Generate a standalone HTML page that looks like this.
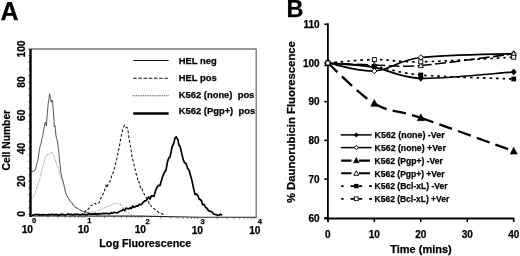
<!DOCTYPE html>
<html><head><meta charset="utf-8"><title>Figure</title>
<style>html,body{margin:0;padding:0;background:#fff}body{width:520px;height:256px;overflow:hidden}svg text{stroke:#000;stroke-width:.25px;stroke-linejoin:round}</style>
</head><body>
<svg width="520" height="256" viewBox="0 0 520 256" style="display:block;filter:blur(0.4px)">
<rect width="520" height="256" fill="#fff"/>
<g font-family="'Liberation Sans', sans-serif" fill="#000">
<text x="0.4" y="19.5" font-size="25" font-weight="700">A</text>
<path d="M31,49 H256.2 M256.2,48.5 V217.5" stroke="#777" stroke-width="1.3" fill="none"/>
<path d="M30,216 L140,216.1 L200,217.2 L256.8,217.3" stroke="#222" stroke-width="1.1" fill="none"/>
<path d="M30.5,48.8 V217" stroke="#000" stroke-width="2.4" fill="none"/>
<path d="M28.4,214.5 H30" stroke="#222" stroke-width="0.7"/>
<path d="M28.4,207.9 H30" stroke="#222" stroke-width="0.7"/>
<path d="M28.4,201.3 H30" stroke="#222" stroke-width="0.7"/>
<path d="M28.4,194.6 H30" stroke="#222" stroke-width="0.7"/>
<path d="M28.4,188.0 H30" stroke="#222" stroke-width="0.7"/>
<path d="M28.4,181.4 H30" stroke="#222" stroke-width="0.7"/>
<path d="M28.4,174.8 H30" stroke="#222" stroke-width="0.7"/>
<path d="M28.4,168.2 H30" stroke="#222" stroke-width="0.7"/>
<path d="M28.4,161.5 H30" stroke="#222" stroke-width="0.7"/>
<path d="M28.4,154.9 H30" stroke="#222" stroke-width="0.7"/>
<path d="M28.4,148.3 H30" stroke="#222" stroke-width="0.7"/>
<path d="M28.4,141.7 H30" stroke="#222" stroke-width="0.7"/>
<path d="M28.4,135.1 H30" stroke="#222" stroke-width="0.7"/>
<path d="M28.4,128.4 H30" stroke="#222" stroke-width="0.7"/>
<path d="M28.4,121.8 H30" stroke="#222" stroke-width="0.7"/>
<path d="M28.4,115.2 H30" stroke="#222" stroke-width="0.7"/>
<path d="M28.4,108.6 H30" stroke="#222" stroke-width="0.7"/>
<path d="M28.4,102.0 H30" stroke="#222" stroke-width="0.7"/>
<path d="M28.4,95.3 H30" stroke="#222" stroke-width="0.7"/>
<path d="M28.4,88.7 H30" stroke="#222" stroke-width="0.7"/>
<path d="M28.4,82.1 H30" stroke="#222" stroke-width="0.7"/>
<path d="M28.4,75.5 H30" stroke="#222" stroke-width="0.7"/>
<path d="M28.4,68.9 H30" stroke="#222" stroke-width="0.7"/>
<path d="M28.4,62.2 H30" stroke="#222" stroke-width="0.7"/>
<path d="M28.4,55.6 H30" stroke="#222" stroke-width="0.7"/>
<path d="M28.4,49.0 H30" stroke="#222" stroke-width="0.7"/>
<path d="M48.0,216.0 v2" stroke="#333" stroke-width="0.6"/>
<path d="M57.9,216.0 v2" stroke="#333" stroke-width="0.6"/>
<path d="M65.0,216.0 v2" stroke="#333" stroke-width="0.6"/>
<path d="M70.4,216.0 v2" stroke="#333" stroke-width="0.6"/>
<path d="M74.9,216.0 v2" stroke="#333" stroke-width="0.6"/>
<path d="M78.7,216.0 v2" stroke="#333" stroke-width="0.6"/>
<path d="M81.9,216.0 v2" stroke="#333" stroke-width="0.6"/>
<path d="M84.8,216.0 v2" stroke="#333" stroke-width="0.6"/>
<path d="M104.4,216.0 v2" stroke="#333" stroke-width="0.6"/>
<path d="M114.3,216.0 v2" stroke="#333" stroke-width="0.6"/>
<path d="M121.4,216.0 v2" stroke="#333" stroke-width="0.6"/>
<path d="M126.8,216.0 v2" stroke="#333" stroke-width="0.6"/>
<path d="M131.3,216.0 v2" stroke="#333" stroke-width="0.6"/>
<path d="M135.1,216.0 v2" stroke="#333" stroke-width="0.6"/>
<path d="M138.3,216.0 v2" stroke="#333" stroke-width="0.6"/>
<path d="M141.2,216.1 v2" stroke="#333" stroke-width="0.6"/>
<path d="M160.8,216.5 v2" stroke="#333" stroke-width="0.6"/>
<path d="M170.7,216.7 v2" stroke="#333" stroke-width="0.6"/>
<path d="M177.8,216.8 v2" stroke="#333" stroke-width="0.6"/>
<path d="M183.2,216.9 v2" stroke="#333" stroke-width="0.6"/>
<path d="M187.7,217.0 v2" stroke="#333" stroke-width="0.6"/>
<path d="M191.5,217.0 v2" stroke="#333" stroke-width="0.6"/>
<path d="M194.7,217.1 v2" stroke="#333" stroke-width="0.6"/>
<path d="M197.6,217.2 v2" stroke="#333" stroke-width="0.6"/>
<path d="M217.2,217.2 v2" stroke="#333" stroke-width="0.6"/>
<path d="M227.1,217.2 v2" stroke="#333" stroke-width="0.6"/>
<path d="M234.2,217.2 v2" stroke="#333" stroke-width="0.6"/>
<path d="M239.6,217.2 v2" stroke="#333" stroke-width="0.6"/>
<path d="M244.1,217.2 v2" stroke="#333" stroke-width="0.6"/>
<path d="M247.9,217.2 v2" stroke="#333" stroke-width="0.6"/>
<path d="M251.1,217.2 v2" stroke="#333" stroke-width="0.6"/>
<path d="M254.0,217.2 v2" stroke="#333" stroke-width="0.6"/>
<text transform="translate(24.5,49.0) rotate(-90)" text-anchor="middle" font-size="10.3" font-weight="700">100</text>
<text transform="translate(24.5,82.0) rotate(-90)" text-anchor="middle" font-size="10.3" font-weight="700">80</text>
<text transform="translate(24.5,115.3) rotate(-90)" text-anchor="middle" font-size="10.3" font-weight="700">60</text>
<text transform="translate(24.5,148.4) rotate(-90)" text-anchor="middle" font-size="10.3" font-weight="700">40</text>
<text transform="translate(24.5,181.3) rotate(-90)" text-anchor="middle" font-size="10.3" font-weight="700">20</text>
<text transform="translate(24.5,213.9) rotate(-90)" text-anchor="middle" font-size="10.3" font-weight="700">0</text>
<text transform="translate(9.5,140.2) rotate(-90)" text-anchor="middle" font-size="10.3" font-weight="700">Cell Number</text>
<text x="21.7" y="233.0" font-size="10.2" font-weight="700">10</text>
<text x="32.0" y="223.1" font-size="7.6" font-weight="700">0</text>
<text x="77.9" y="233.0" font-size="10.2" font-weight="700">10</text>
<text x="87.2" y="223.2" font-size="7.6" font-weight="700">1</text>
<text x="134.7" y="233.4" font-size="10.2" font-weight="700">10</text>
<text x="145.6" y="223.7" font-size="7.6" font-weight="700">2</text>
<text x="191.7" y="233.9" font-size="10.2" font-weight="700">10</text>
<text x="200.6" y="224.4" font-size="7.6" font-weight="700">3</text>
<text x="249.2" y="233.9" font-size="10.2" font-weight="700">10</text>
<text x="257.8" y="224.4" font-size="7.6" font-weight="700">4</text>
<text x="99.3" y="246.6" font-size="11" font-weight="700" textLength="92" lengthAdjust="spacingAndGlyphs">Log Fluorescence</text>
<path d="M31.0,170.3 L32.0,171.4 L33.0,171.2 L34.0,171.0 L35.0,170.3 L36.0,167.9 L37.0,163.2 L38.0,159.9 L39.2,150.9 L40.5,144.3 L41.2,143.0 L42.0,138.4 L42.8,135.6 L43.5,130.9 L44.2,127.6 L45.0,122.6 L45.7,122.4 L46.4,126.0 L47.2,115.1 L48.2,103.6 L48.9,99.4 L49.6,93.9 L50.5,98.7 L51.3,102.2 L52.0,100.0 L52.6,101.8 L53.5,113.0 L54.4,126.9 L55.0,125.6 L56.0,136.0 L56.9,139.1 L57.7,143.1 L58.5,149.7 L59.3,157.8 L60.0,163.9 L60.8,172.1 L61.9,177.5 L63.0,181.0 L64.0,185.1 L65.0,189.3 L66.0,194.2 L67.0,195.9 L68.0,197.9 L69.0,199.0 L70.0,201.0 L71.0,201.8 L72.0,202.8 L73.0,204.5 L74.0,205.8 L75.0,207.5 L76.0,207.5 L77.0,208.1 L78.0,208.4 L79.0,209.5 L80.0,210.1 L80.9,210.1 L81.8,210.9 L82.7,211.3 L83.5,211.5 L84.3,211.5 L85.2,211.9 L86.0,211.8 L87.0,212.6 L88.0,212.8 L89.0,213.1 L90.0,213.4 L90.8,213.9 L91.7,214.2 L92.5,213.9 L93.3,214.4 L94.2,214.4 L95.0,214.4 L95.8,214.6 L96.7,214.9 L97.5,215.0 L98.3,214.7 L99.2,215.0 L100.0,214.8" fill="none" stroke="#222" stroke-width="0.75" stroke-linejoin="round"/>
<path d="M33.0,197.5 L34.0,195.2 L35.0,193.8 L36.0,190.2 L37.0,187.0 L38.0,184.3 L39.0,182.0 L40.0,177.7 L41.0,173.6 L42.0,168.8 L43.0,166.1 L44.0,162.5 L45.0,159.2 L46.0,156.6 L47.0,154.3 L48.0,155.0 L49.0,153.8 L50.0,153.2 L51.0,153.5 L52.0,152.3 L53.0,154.0 L54.0,156.3 L55.0,159.1 L56.0,161.9 L57.0,165.4 L58.0,167.0 L59.0,171.3 L60.0,174.9 L61.0,178.0 L62.0,180.2 L63.0,183.9 L64.0,186.0 L65.0,191.0 L66.0,193.8 L66.9,195.1 L67.7,196.6 L68.6,199.7 L69.7,200.8 L70.9,202.9 L72.0,204.5 L73.0,205.0 L74.0,205.9 L75.0,207.1 L76.0,207.9 L77.0,208.2 L78.0,208.8 L79.0,209.8 L80.0,209.6 L81.0,210.1 L82.0,210.9 L83.0,211.1 L84.0,211.6 L85.0,212.0 L86.0,212.0 L87.0,212.5 L88.0,212.1 L89.0,212.4 L90.0,212.3 L91.0,212.5 L92.0,212.2 L93.0,212.1 L94.0,212.2 L95.0,211.9 L96.0,211.6 L97.0,211.5 L98.0,210.5 L99.0,210.1 L100.0,209.8 L101.0,209.8 L102.0,209.3 L103.0,208.6 L104.0,208.2 L105.0,207.7 L106.0,207.4 L107.0,206.3 L108.0,206.4 L109.0,206.1 L110.0,205.6 L111.0,205.0 L112.0,205.0 L113.0,203.5 L114.0,203.5 L115.0,204.1 L116.0,203.7 L117.0,203.0 L118.0,203.6 L119.0,203.8 L120.0,204.7 L121.0,204.7 L122.0,206.0 L123.0,207.6 L124.0,208.7 L125.0,209.9 L126.0,211.3 L127.0,211.9 L128.0,212.7 L129.0,213.3 L130.0,213.9 L131.0,214.6 L132.0,214.9" fill="none" stroke="#777" stroke-width="0.9" stroke-dasharray="0.9 1.0"/>
<path d="M80.0,215.1 L81.0,214.5 L82.0,213.9 L83.0,213.4 L84.0,212.7 L85.0,212.0 L86.0,210.3 L87.0,209.8 L88.0,209.5 L89.0,208.2 L90.0,207.5 L91.0,205.4 L91.9,205.3 L92.7,204.3 L93.6,204.1 L95.0,203.1 L96.0,204.3 L97.0,204.0 L98.0,203.6 L99.0,202.8 L100.0,200.6 L101.0,197.6 L102.0,197.4 L103.0,194.0 L104.0,192.7 L105.0,188.5 L106.0,185.5 L106.8,188.0 L107.5,185.8 L108.8,182.5 L110.0,181.4 L111.0,178.5 L112.0,174.0 L113.0,173.4 L113.9,169.5 L114.8,167.2 L115.7,163.1 L116.8,159.3 L118.0,152.6 L119.0,148.4 L120.0,143.2 L121.0,136.9 L122.0,132.6 L122.8,129.5 L123.5,126.9 L124.8,125.2 L126.0,127.4 L127.0,127.3 L128.0,130.5 L129.0,138.5 L130.0,143.5 L131.0,149.4 L132.0,157.0 L133.0,160.4 L134.0,164.4 L135.0,168.9 L136.0,173.6 L137.0,175.5 L138.0,182.0 L139.0,181.6 L140.0,186.3 L141.0,189.0 L142.0,188.6 L143.0,192.9 L144.0,193.6 L145.2,196.7 L146.5,197.9 L147.4,199.3 L148.2,200.9 L149.1,203.6 L150.0,203.5 L151.0,205.7 L152.0,207.2 L153.0,208.5 L153.9,208.6 L154.8,209.4 L155.8,210.3 L156.7,211.2 L157.8,211.4 L158.9,212.5 L160.0,213.2 L161.0,213.6 L162.0,213.5 L163.0,214.4 L164.0,214.4 L165.0,214.9" fill="none" stroke="#111" stroke-width="1.05" stroke-dasharray="2.8 2.0"/>
<path d="M32.0,215.1 L33.3,215.1 L34.5,214.8 L35.8,214.5 L37.1,214.3 L38.4,214.9 L39.6,214.7 L40.9,215.0 L42.2,214.6 L43.5,215.0 L44.7,214.5 L46.0,215.0 L47.3,214.9 L48.5,214.6 L49.8,214.7 L51.1,214.8 L52.4,214.3 L53.6,214.7 L54.9,214.9 L56.2,214.4 L57.5,214.9 L58.7,214.8 L60.0,214.9 L61.3,214.4 L62.6,214.2 L63.9,214.9 L65.2,214.8 L66.5,214.5 L67.8,214.1 L69.1,214.2 L70.4,214.6 L71.7,214.2 L73.0,214.9 L74.3,214.5 L75.7,214.1 L77.0,214.5 L78.3,214.2 L79.6,214.8 L80.9,214.7 L82.2,214.3 L83.5,214.4 L84.8,214.5 L86.1,214.6 L87.4,214.7 L88.7,213.7 L90.0,214.1 L91.3,214.3 L92.7,213.9 L94.0,214.1 L95.3,213.6 L96.7,214.3 L98.0,213.9 L99.3,213.5 L100.7,214.0 L102.0,213.6 L103.3,213.4 L104.7,213.7 L106.0,213.3 L107.3,213.3 L108.7,213.9 L110.0,213.7 L111.3,212.7 L112.7,213.4 L114.0,212.3 L115.3,212.5 L116.7,213.0 L118.0,212.5 L119.3,211.5 L120.7,211.0 L122.0,210.5 L123.3,209.4 L124.7,210.5 L126.0,208.1 L127.3,208.5 L128.7,208.9 L130.0,207.8 L131.3,208.5 L132.7,206.0 L134.0,207.3 L135.3,206.7 L136.7,205.8 L138.0,206.1 L139.3,204.2 L140.7,204.7 L142.0,204.0 L143.3,202.1 L144.7,200.9 L146.0,200.8 L147.3,199.0 L148.7,196.9 L150.0,199.1 L151.3,195.9 L152.7,195.9 L154.0,196.4 L155.5,190.7 L157.0,187.3 L158.5,185.4 L160.0,185.5 L161.5,180.2 L163.0,175.6 L164.5,172.2 L166.0,170.4 L167.5,161.6 L169.0,157.5 L170.0,157.1 L171.0,152.6 L172.0,147.2 L173.0,144.9 L174.0,142.4 L175.0,138.0 L176.2,136.8 L178.0,139.9 L179.0,145.7 L180.0,146.0 L181.6,152.9 L183.2,159.6 L184.6,162.9 L186.0,163.3 L187.5,168.1 L189.0,170.0 L190.5,175.4 L192.0,180.9 L193.5,188.1 L195.0,194.4 L196.5,194.0 L198.0,195.9 L199.2,199.3 L200.3,199.4 L201.5,200.9 L202.7,204.8 L204.1,204.4 L205.6,207.5 L207.0,208.2 L208.3,210.5 L209.7,211.4 L211.0,211.4 L212.3,212.4 L213.7,214.0 L215.0,214.4 L216.5,214.7 L218.0,215.4 L219.2,215.0 L220.5,214.2 L222.0,215.3" fill="none" stroke="#000" stroke-width="1.7" stroke-linejoin="round"/>
<path d="M133.2,60.5 H168.6" stroke="#111" stroke-width="1.1"/>
<path d="M133.2,78.3 H168.6" stroke="#111" stroke-width="1.1" stroke-dasharray="3.5 1.7"/>
<path d="M132.6,95.7 H169" stroke="#444" stroke-width="1.1" stroke-dasharray="0.95 0.8"/>
<path d="M133.2,113.4 H168.6" stroke="#000" stroke-width="2.5"/>
<text x="178.8" y="63.7" font-size="9.4" font-weight="700" xml:space="preserve">HEL neg</text>
<text x="178.8" y="80.5" font-size="9.4" font-weight="700" xml:space="preserve">HEL pos</text>
<text x="178.8" y="97.6" font-size="9.4" font-weight="700" xml:space="preserve">K562 (none)  pos</text>
<text x="178.8" y="114.3" font-size="9.4" font-weight="700" xml:space="preserve">K562 (Pgp+)  pos</text>
<text x="286.6" y="17.4" font-size="23.5" font-weight="700">B</text>
<path d="M327.9,23.2 V222" stroke="#000" stroke-width="1.8" fill="none"/>
<path d="M324.3,218.5 H514.4" stroke="#000" stroke-width="1.8" fill="none"/>
<path d="M324.3,24.3 H327.9" stroke="#000" stroke-width="1.6"/>
<text x="319.6" y="28.0" text-anchor="end" font-size="10" font-weight="700">110</text>
<path d="M324.3,63.0 H327.9" stroke="#000" stroke-width="1.6"/>
<text x="319.6" y="66.7" text-anchor="end" font-size="10" font-weight="700">100</text>
<path d="M324.3,101.7 H327.9" stroke="#000" stroke-width="1.6"/>
<text x="319.6" y="105.4" text-anchor="end" font-size="10" font-weight="700">90</text>
<path d="M324.3,140.4 H327.9" stroke="#000" stroke-width="1.6"/>
<text x="319.6" y="144.1" text-anchor="end" font-size="10" font-weight="700">80</text>
<path d="M324.3,179.1 H327.9" stroke="#000" stroke-width="1.6"/>
<text x="319.6" y="182.8" text-anchor="end" font-size="10" font-weight="700">70</text>
<path d="M324.3,217.8 H327.9" stroke="#000" stroke-width="1.6"/>
<text x="319.6" y="221.5" text-anchor="end" font-size="10" font-weight="700">60</text>
<path d="M327.9,218.5 V222" stroke="#000" stroke-width="1.6"/>
<text x="327.9" y="238.2" text-anchor="middle" font-size="10" font-weight="700">0</text>
<path d="M374.3,218.5 V222" stroke="#000" stroke-width="1.6"/>
<text x="374.3" y="238.2" text-anchor="middle" font-size="10" font-weight="700">10</text>
<path d="M420.8,218.5 V222" stroke="#000" stroke-width="1.6"/>
<text x="420.8" y="238.2" text-anchor="middle" font-size="10" font-weight="700">20</text>
<path d="M467.2,218.5 V222" stroke="#000" stroke-width="1.6"/>
<text x="467.2" y="238.2" text-anchor="middle" font-size="10" font-weight="700">30</text>
<path d="M513.7,218.5 V222" stroke="#000" stroke-width="1.6"/>
<text x="513.7" y="238.2" text-anchor="middle" font-size="10" font-weight="700">40</text>
<text x="421" y="253" text-anchor="middle" font-size="11" font-weight="700">Time (mins)</text>
<text transform="translate(295.3,122.1) rotate(-90)" text-anchor="middle" font-size="11.3" font-weight="700">% Daunorubicin Fluorescence</text>
<path d="M327.9,63.0 C335.6,63.7 358.9,64.8 374.3,67.3 C389.8,69.8 397.6,77.5 420.8,78.3 C444.0,79.1 498.2,73.0 513.7,72.0" fill="none" stroke="#000" stroke-width="1.7"/>
<path d="M327.9,63.0 C335.6,64.3 358.9,71.9 374.3,71.0 C389.8,70.1 397.6,60.4 420.8,57.5 C444.0,54.6 498.2,54.2 513.7,53.6" fill="none" stroke="#000" stroke-width="1.7"/>
<path d="M327.9,63.0 C335.6,69.8 358.9,94.4 374.3,103.5 M374.3,103.5 C389.8,112.6 397.6,109.8 420.8,117.8 M420.8,117.8 C444.0,125.8 498.2,145.6 513.7,151.2" fill="none" stroke="#000" stroke-width="2.3" stroke-dasharray="13.5 6.3"/>
<path d="M327.9,63.0 C335.6,63.3 358.9,64.6 374.3,65.0 M374.3,65.0 C389.8,65.4 397.6,67.4 420.8,65.5 M420.8,65.5 C444.0,63.6 498.2,55.8 513.7,53.8" fill="none" stroke="#000" stroke-width="1.6" stroke-dasharray="11 3.5"/>
<path d="M327.9,63.0 C335.6,63.6 358.9,64.5 374.3,66.5 C389.8,68.5 397.6,72.9 420.8,75.0 C444.0,77.1 498.2,78.3 513.7,79.0" fill="none" stroke="#000" stroke-width="1.7" stroke-dasharray="2.6 3.9"/>
<path d="M327.9,63.0 C335.6,62.4 358.9,59.8 374.3,59.6 C389.8,59.4 397.6,62.2 420.8,61.8 C444.0,61.4 498.2,58.0 513.7,57.2" fill="none" stroke="#000" stroke-width="1.7" stroke-dasharray="2.6 3.9"/>
<path d="M327.90,59.90 l2.80,3.10 l-2.80,3.10 l-2.80,-3.10 z" fill="#000" stroke="#000" stroke-width="0.5"/>
<path d="M374.35,64.20 l2.80,3.10 l-2.80,3.10 l-2.80,-3.10 z" fill="#000" stroke="#000" stroke-width="0.5"/>
<path d="M420.80,75.20 l2.80,3.10 l-2.80,3.10 l-2.80,-3.10 z" fill="#000" stroke="#000" stroke-width="0.5"/>
<path d="M513.70,68.90 l2.80,3.10 l-2.80,3.10 l-2.80,-3.10 z" fill="#000" stroke="#000" stroke-width="0.5"/>
<path d="M327.90,60.20 l2.50,2.80 l-2.50,2.80 l-2.50,-2.80 z" fill="#fff" stroke="#000" stroke-width="0.9"/>
<path d="M374.35,68.20 l2.50,2.80 l-2.50,2.80 l-2.50,-2.80 z" fill="#fff" stroke="#000" stroke-width="0.9"/>
<path d="M420.80,54.70 l2.50,2.80 l-2.50,2.80 l-2.50,-2.80 z" fill="#fff" stroke="#000" stroke-width="0.9"/>
<path d="M513.70,50.80 l2.50,2.80 l-2.50,2.80 l-2.50,-2.80 z" fill="#fff" stroke="#000" stroke-width="0.9"/>
<path d="M327.90,59.06 l3.50,6.80 h-7.00 z" fill="#000" stroke="#000" stroke-width="0.6"/>
<path d="M374.35,99.56 l3.50,6.80 h-7.00 z" fill="#000" stroke="#000" stroke-width="0.6"/>
<path d="M420.80,113.86 l3.50,6.80 h-7.00 z" fill="#000" stroke="#000" stroke-width="0.6"/>
<path d="M513.70,147.26 l3.50,6.80 h-7.00 z" fill="#000" stroke="#000" stroke-width="0.6"/>
<path d="M327.90,60.21 l2.60,4.90 h-5.20 z" fill="#fff" stroke="#000" stroke-width="0.9"/>
<path d="M374.35,62.21 l2.60,4.90 h-5.20 z" fill="#fff" stroke="#000" stroke-width="0.9"/>
<path d="M420.80,62.71 l2.60,4.90 h-5.20 z" fill="#fff" stroke="#000" stroke-width="0.9"/>
<path d="M513.70,51.01 l2.60,4.90 h-5.20 z" fill="#fff" stroke="#000" stroke-width="0.9"/>
<rect x="325.50" y="60.60" width="4.80" height="4.80" fill="#000"/>
<rect x="371.95" y="64.10" width="4.80" height="4.80" fill="#000"/>
<rect x="418.40" y="72.60" width="4.80" height="4.80" fill="#000"/>
<rect x="511.30" y="76.60" width="4.80" height="4.80" fill="#000"/>
<rect x="325.90" y="61.00" width="4.00" height="4.00" fill="#fff" stroke="#000" stroke-width="0.9"/>
<rect x="372.35" y="57.60" width="4.00" height="4.00" fill="#fff" stroke="#000" stroke-width="0.9"/>
<rect x="418.80" y="59.80" width="4.00" height="4.00" fill="#fff" stroke="#000" stroke-width="0.9"/>
<rect x="511.70" y="55.20" width="4.00" height="4.00" fill="#fff" stroke="#000" stroke-width="0.9"/>
<path d="M340.8,134.9 H371.6" stroke="#000" stroke-width="1.5"/>
<path d="M356.30,132.67 l2.02,2.23 l-2.02,2.23 l-2.02,-2.23 z" fill="#000" stroke="#000" stroke-width="0.5"/>
<text x="374.6" y="138.1" font-size="8.8" font-weight="700" textLength="70.0" lengthAdjust="spacingAndGlyphs">K562 (none) -Ver</text>
<path d="M340.8,147.6 H371.6" stroke="#000" stroke-width="1.5"/>
<path d="M356.30,145.36 l2.00,2.24 l-2.00,2.24 l-2.00,-2.24 z" fill="#fff" stroke="#000" stroke-width="0.9"/>
<text x="374.6" y="150.8" font-size="8.8" font-weight="700" textLength="71.2" lengthAdjust="spacingAndGlyphs">K562 (none) +Ver</text>
<path d="M341.2,160.6 H351.5 M359,160.6 H370" stroke="#000" stroke-width="2.2"/>
<path d="M356.30,157.52 l2.73,5.30 h-5.46 z" fill="#000" stroke="#000" stroke-width="0.6"/>
<text x="374.6" y="163.8" font-size="8.8" font-weight="700" textLength="68.3" lengthAdjust="spacingAndGlyphs">K562 (Pgp+) -Ver</text>
<path d="M341.2,173.3 H351.5 M359,173.3 H370" stroke="#000" stroke-width="1.9"/>
<path d="M356.30,170.65 l2.47,4.66 h-4.94 z" fill="#fff" stroke="#000" stroke-width="0.9"/>
<text x="374.6" y="176.5" font-size="8.8" font-weight="700" textLength="70.0" lengthAdjust="spacingAndGlyphs">K562 (Pgp+) +Ver</text>
<path d="M341.2,186.1 h2.4 M350.6,186.1 h3.4 M358.6,186.1 h3.6 M369.2,186.1 h2.8" stroke="#000" stroke-width="1.7"/>
<rect x="354.09" y="183.89" width="4.42" height="4.42" fill="#000"/>
<text x="374.6" y="189.3" font-size="8.8" font-weight="700" textLength="73.0" lengthAdjust="spacingAndGlyphs">K562 (Bcl-xL) -Ver</text>
<path d="M341.2,198.8 h2.4 M350.6,198.8 h3.4 M358.6,198.8 h3.6 M369.2,198.8 h2.8" stroke="#000" stroke-width="1.7"/>
<rect x="354.40" y="196.90" width="3.80" height="3.80" fill="#fff" stroke="#000" stroke-width="0.9"/>
<text x="374.6" y="202.0" font-size="8.8" font-weight="700" textLength="74.6" lengthAdjust="spacingAndGlyphs">K562 (Bcl-xL) +Ver</text>
</g></svg>
</body></html>
